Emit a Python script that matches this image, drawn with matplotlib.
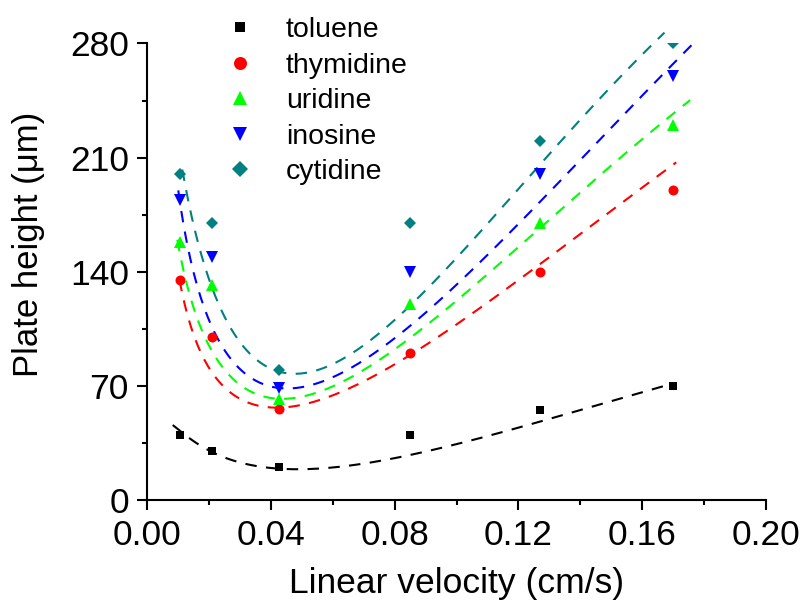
import numpy as np
import matplotlib.pyplot as plt

plt.rcParams['font.family'] = ['Liberation Sans', 'DejaVu Sans']

# measured points
u = [0.0107, 0.021, 0.0425, 0.085, 0.127, 0.170]
names = ['toluene', 'thymidine', 'uridine', 'inosine', 'cytidine']
h_toluene = [40, 30, 20, 40, 55, 70]
h_thymidine = [135, 100, 56, 90, 140, 190]
h_uridine = [158, 132, 62, 120, 170, 230]
h_inosine = [184, 149, 69, 140, 200, 260]
h_cytidine = [200, 170, 80, 170, 220, 280]

# dashed fit curves
fu_toluene = [0.0083, 0.0149, 0.021, 0.03, 0.0425, 0.0516, 0.0667, 0.0796, 0.0947,
              0.1087, 0.1227, 0.1297, 0.1443, 0.1583, 0.1657]
fh_toluene = [46, 36.3, 29.2, 23.5, 19, 18.8, 21.5, 25.5, 31.7, 38.8, 46, 49.5, 57.2, 65, 69.5]
fu_thymidine = [0.0108, 0.0128, 0.0155, 0.0187, 0.0225, 0.0279, 0.0354, 0.0451, 0.0559,
                0.0656, 0.0763, 0.0914, 0.1054, 0.1141, 0.1265, 0.1548, 0.162, 0.169]
fh_thymidine = [130.8, 116.5, 100, 85.8, 73.6, 63.3, 58.2, 57.2, 61.3, 68.5, 80.7, 96,
                114.4, 127.7, 143, 183.9, 194.5, 204.7]
fu_uridine = [0.0095, 0.0118, 0.0144, 0.0177, 0.0215, 0.0268, 0.0354, 0.0451, 0.0527,
              0.0634, 0.0774, 0.0925, 0.106, 0.1119, 0.1248, 0.1415, 0.1485, 0.1555,
              0.1625, 0.1695]
fh_uridine = [157.4, 147, 126.7, 104, 85.8, 71.5, 63.3, 63.3, 67.4, 73.6, 90.9, 109.3,
              130.8, 142, 164.4, 189, 201.3, 213.5, 225.8, 238]
fu_inosine = [0.0101, 0.0118, 0.015, 0.0187, 0.0231, 0.029, 0.0354, 0.0419, 0.0483,
              0.0559, 0.0645, 0.0807, 0.0952, 0.1097, 0.1237, 0.1308, 0.1373, 0.1443,
              0.1507, 0.1572, 0.1636, 0.1701, 0.176]
fh_inosine = [184, 173.7, 147, 116.5, 94, 78.6, 71.5, 68.5, 69.5, 73.6, 79.7, 103.2,
              125.7, 149.2, 175.8, 189, 202.3, 215.6, 228.8, 242, 255.4, 268.7, 280.5]
fu_cytidine = [0.0117, 0.015, 0.0182, 0.0241, 0.029, 0.0333, 0.0397, 0.0473, 0.0548,
               0.0624, 0.0678, 0.0898, 0.1033, 0.1162, 0.1297, 0.1361, 0.1426, 0.1485,
               0.1544, 0.1609, 0.1668]
fh_cytidine = [194, 175.7, 153, 112.4, 96, 85.8, 78.6, 77.7, 80.7, 87.8, 94, 130.8,
               156.3, 182.9, 209.5, 222.7, 236, 249.3, 262.6, 275.9, 289]
fit_start = [0.0083, 0.0105, 0.0098, 0.0101, 0.0114]
fit_end = [0.170, 0.171, 0.1755, 0.1775, 0.1672]

heights = [h_toluene, h_thymidine, h_uridine, h_inosine, h_cytidine]
fit_u = [fu_toluene, fu_thymidine, fu_uridine, fu_inosine, fu_cytidine]
fit_h = [fh_toluene, fh_thymidine, fh_uridine, fh_inosine, fh_cytidine]
colors = ['black', '#FF0000', '#00FF00', '#0000FF', '#008080']
markers = ['s', 'o', '^', 'v', 'D']
msizes = [6, 7.2, 8, 8, 6.5]


def basis(x):
    x = np.asarray(x, dtype=float)
    return np.column_stack([np.ones_like(x), 1 / x, np.sqrt(x), x, x ** 2])


fig = plt.figure(figsize=(8.03, 6.03), dpi=100)
ax = fig.add_axes([0.1831, 0.1708, 0.7708, 0.7571])

for i in range(5):
    # smooth curve through the sampled fit line
    coef = np.linalg.lstsq(basis(fit_u[i]), np.asarray(fit_h[i]), rcond=None)[0]
    xs = np.linspace(fit_start[i], fit_end[i], 300)
    ax.plot(xs, basis(xs) @ coef, color=colors[i], lw=1.5, dashes=(5.5, 4.5),
            clip_on=False)

handles = []
for i in range(5):
    ln, = ax.plot(u, heights[i], linestyle='none', marker=markers[i], ms=msizes[i],
                  color=colors[i], markeredgewidth=0, label=names[i])
    handles.append(ln)

ax.set_xlim(0, 0.20)
ax.set_ylim(0, 280)
ax.set_xticks([0.00, 0.04, 0.08, 0.12, 0.16, 0.20])
ax.set_xticklabels(['0.00', '0.04', '0.08', '0.12', '0.16', '0.20'])
ax.set_xticks(np.arange(0.02, 0.20, 0.04), minor=True)
ax.set_yticks([0, 70, 140, 210, 280])
ax.set_yticks([35, 105, 175, 245], minor=True)
ax.spines['top'].set_visible(False)
ax.spines['right'].set_visible(False)
for s in ['left', 'bottom']:
    ax.spines[s].set_linewidth(1.5)
ax.tick_params(which='major', length=7, width=1.5, labelsize=25.5)
ax.tick_params(which='minor', length=3.8, width=1.5)
ax.tick_params(axis='x', which='major', pad=7)
ax.tick_params(axis='y', which='major', pad=6)

ax.set_xlabel('Linear velocity (cm/s)', fontsize=25.5)
ax.set_ylabel('Plate height (\u03bcm)', fontsize=25)
ax.xaxis.set_label_coords(0.5, -0.147)
ax.yaxis.set_label_coords(-0.165, 0.56)

fig.legend(handles=handles, loc='upper left', bbox_to_anchor=(226 / 803, 1 - 17 / 603),
           frameon=False, fontsize=20.5, handlelength=1.0, handletextpad=1.1,
           labelspacing=0.335, borderpad=0, borderaxespad=0, markerscale=1.3)

fig.savefig('out.png', dpi=100)
